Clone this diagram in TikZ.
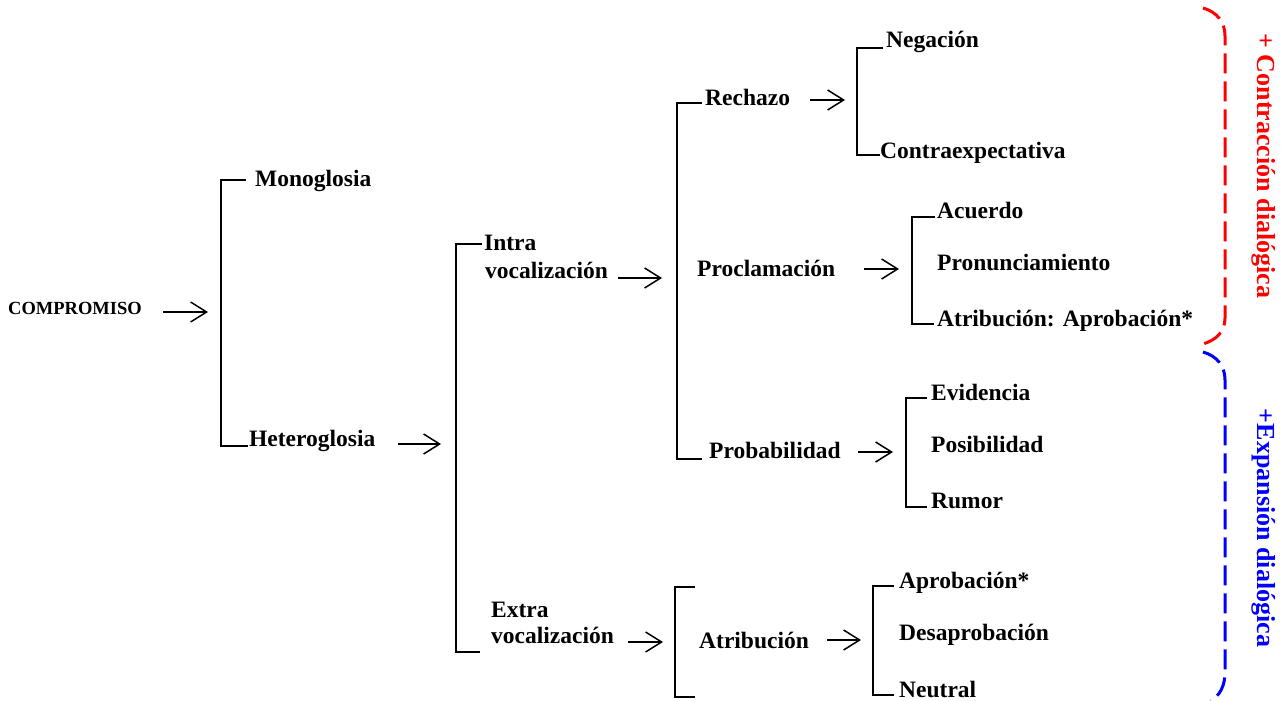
\documentclass[tikz,border=0pt]{standalone}
\usepackage{fontspec}
\setmainfont{Liberation Serif}
\usetikzlibrary{arrows.meta}
\begin{document}
\begin{tikzpicture}[x=1pt,y=-1pt,
  lab/.style={anchor=base west, inner sep=0pt, font=\fontsize{23.5}{28}\selectfont\bfseries},
  brk/.style={line width=1.9pt, line join=miter},
  arr/.style={line width=1.5pt, -{Straight Barb[length=16pt,width=20pt,line width=1.5pt]}},
  brace/.style={line width=3pt, dash pattern=on 20pt off 8pt},
  side/.style={font=\fontsize{26}{30}\selectfont\bfseries, rotate=-90, inner sep=0pt}]
\useasboundingbox (0,0) rectangle (1285,701);
\fill[white] (0,0) rectangle (1285,701);

% labels
\node[lab, font=\fontsize{18.5}{22}\selectfont\bfseries] (comp) at (8,314) {COMPROMISO};
\node[lab] (mono) at (255,186) {Monoglosia};
\node[lab] (hetero) at (249,446) {Heteroglosia};
\node[lab] (intra1) at (484,250) {Intra};
\node[lab] (intra2) at (485,278) {vocalización};
\node[lab] (extra1) at (491,617) {Extra};
\node[lab] (extra2) at (491,643) {vocalización};
\node[lab] (rech) at (705,106) {Rechazo};
\node[lab] (procl) at (697,276) {Proclamación};
\node[lab] (prob) at (709,458) {Probabilidad};
\node[lab] (neg) at (886,48) {Negación};
\node[lab] (contra) at (880,158) {Contraexpectativa};
\node[lab] (acu) at (937,218) {Acuerdo};
\node[lab] (pron) at (937,270) {Pronunciamiento};
\node[lab] (atap) at (937,326) {Atribución:\hspace{0.35em}Aprobación*};
\node[lab] (evid) at (931,400) {Evidencia};
\node[lab] (posib) at (931,452) {Posibilidad};
\node[lab] (rumor) at (931,508) {Rumor};
\node[lab] (atrib) at (699,648) {Atribución};
\node[lab] (aprob) at (899,588) {Aprobación*};
\node[lab] (desap) at (899,640) {Desaprobación};
\node[lab] (neut) at (899,697) {Neutral};

% brackets
\draw[brk] (246,180) -- (221,180) -- (221,446) -- (248,446);
\draw[brk] (482,244) -- (456,244) -- (456,652) -- (480,652);
\draw[brk] (702,103) -- (677,103) -- (677,459) -- (702,459);
\draw[brk] (883,48) -- (857,48) -- (857,155) -- (880,155);
\draw[brk] (935,217) -- (912,217) -- (912,324) -- (934,324);
\draw[brk] (927,398) -- (906,398) -- (906,507) -- (927,507);
\draw[brk] (695,587) -- (675,587) -- (675,697) -- (695,697);
\draw[brk] (894,586) -- (873,586) -- (873,695) -- (894,695);

% arrow end points
\coordinate (a1s) at (163,312); \coordinate (a1e) at (208,312);
\coordinate (a2s) at (398,444); \coordinate (a2e) at (441,444);
\coordinate (a3s) at (618,278); \coordinate (a3e) at (662,278);
\coordinate (a4s) at (628,642); \coordinate (a4e) at (663,642);
\coordinate (a5s) at (810,100); \coordinate (a5e) at (845,100);
\coordinate (a6s) at (864,269); \coordinate (a6e) at (899,269);
\coordinate (a7s) at (858,452); \coordinate (a7e) at (893,452);
\coordinate (a8s) at (827,640); \coordinate (a8e) at (861,640);
\foreach \i in {1,...,8} \draw[arr] (a\i s) -- (a\i e);

% side braces
\draw[brace, red] (1203,8) .. controls (1217,12) and (1225,22) .. (1225,36) -- (1225,318) .. controls (1225,332) and (1216,340) .. (1203,344);
\draw[brace, blue] (1203,352) .. controls (1217,356) and (1225,366) .. (1225,380) -- (1225,672) .. controls (1225,686) and (1220,695) .. (1211,701);
\node[side, text=red] (contr) at (1264,166) {+ Contracción dialógica};
\node[side, text=blue] (expan) at (1264,528) {+Expansión dialógica};
\end{tikzpicture}
\end{document}
